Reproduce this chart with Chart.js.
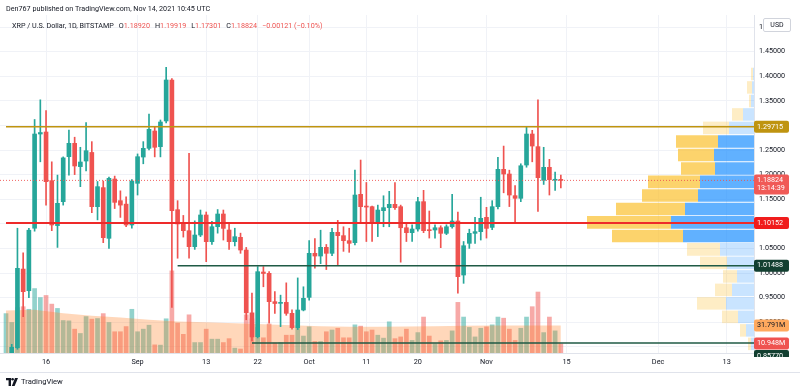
<!DOCTYPE html>
<html>
<head>
<meta charset="utf-8">
<script src="https://cdn.jsdelivr.net/npm/chart.js@4.4.1/dist/chart.umd.min.js"></script>
<style>
  body { margin: 0; background: #fff; font-family: Roboto, "Noto Sans", sans-serif; }
  #wrap { position: relative; width: 800px; height: 392px; overflow: hidden; }
  #chart { position: absolute; left: 0; top: 0; }
  .txt { position: absolute; color: #131722; font-size: 7.2px; white-space: nowrap; }
  .red { color: #ef5350; }
  .gap { margin-left: 5px; }
  #usd { position: absolute; left: 763px; top: 18px; width: 26px; height: 12px; border: 1px solid #d1d4dc;
         border-radius: 2px; background: #fff; font-size: 7px; line-height: 12px; text-align: center; color: #131722; }
  #footer { position: absolute; left: 0; top: 372px; width: 800px; border-top: 1px solid #e0e3eb; }
  #logo { position: absolute; left: 6px; top: 377px; display: flex; align-items: center; gap: 3px;
          font-size: 7.6px; color: #131722; }
</style>
</head>
<body>
<div id="wrap">
  <canvas id="chart" width="800" height="392"></canvas>
  <div class="txt" style="left:6px; top:4px;">Den767 published on TradingView.com, Nov 14, 2021 10:45 UTC</div>
  <div class="txt" style="left:12px; top:21px;">XRP / U.S. Dollar, 1D, BITSTAMP<span class="gap">O</span><span class="red">1.18920</span><span class="gap">H</span><span class="red">1.19919</span><span class="gap">L</span><span class="red">1.17301</span><span class="gap">C</span><span class="red">1.18824</span><span class="gap red">−0.00121 (−0.10%)</span></div>
  <div id="usd">USD</div>
  <div id="footer"></div>
  <div id="logo">
    <svg width="12" height="8" viewBox="0 0 12 8"><path d="M0 0h5v8H2.6V2.3H0z" fill="#131722"/><circle cx="6.6" cy="1.3" r="1.3" fill="#131722"/><path d="M9 0h3L8.6 8H5.8z" fill="#131722"/></svg>
    <span>TradingView</span>
  </div>
</div>
<script>
// daily candles, XRP/USD Bitstamp, first bar = Aug 9 2021 (day 0), last = Nov 14 (day 97)
const opens = [
  0.76, 0.835, 0.848, 1.008, 0.964, 1.091, 1.2825, 1.2866, 1.1877, 1.0963,
  1.145, 1.2365, 1.2636, 1.2162, 1.2276, 1.245, 1.1348, 1.1735, 1.0705, 1.191,
  1.147, 1.140, 1.0976, 1.1823, 1.2357, 1.2534, 1.2886, 1.2568, 1.309, 1.3923,
  1.1287, 1.0997, 1.086, 1.0535, 1.0772, 1.1179, 1.0637, 1.0941, 1.1199, 1.0874,
  1.0637, 1.0725, 1.0467, 0.919, 0.8705, 1.002, 0.9993, 0.9417, 0.9383, 0.9403,
  0.918, 0.8889, 0.9248, 0.9505, 1.040, 1.0345, 1.0522, 1.040, 1.0827, 1.0759,
  1.0657, 1.0616, 1.1599, 1.136, 1.1348, 1.101, 1.1267, 1.1328, 1.1396, 1.1348,
  1.092, 1.082, 1.0894, 1.145, 1.0874, 1.0874, 1.092, 1.0806, 1.094, 1.1057,
  0.9959, 1.0603, 1.0806, 1.084, 1.1131, 1.0927, 1.1348, 1.2107, 1.2012, 1.1572,
  1.1518, 1.2195, 1.2825, 1.2568, 1.1884, 1.2148, 1.1885, 1.18920
];
const highs = [
  0.83, 0.855, 1.091, 1.041, 1.091, 1.312, 1.352, 1.330, 1.226, 1.199,
  1.236, 1.2907, 1.276, 1.2555, 1.3055, 1.267, 1.186, 1.187, 1.195, 1.197,
  1.167, 1.155, 1.19, 1.242, 1.267, 1.323, 1.297, 1.311, 1.418, 1.395,
  1.147, 1.117, 1.243, 1.106, 1.128, 1.124, 1.105, 1.129, 1.128, 1.099,
  1.091, 1.081, 1.052, 0.959, 1.013, 1.013, 1.003, 0.962, 0.955, 0.98,
  0.925, 0.99, 0.972, 1.066, 1.070, 1.087, 1.058, 1.091, 1.107, 1.094,
  1.091, 1.209, 1.2296, 1.184, 1.136, 1.138, 1.157, 1.166, 1.184, 1.138,
  1.100, 1.098, 1.154, 1.168, 1.126, 1.098, 1.096, 1.098, 1.160, 1.124,
  1.064, 1.089, 1.113, 1.154, 1.1335, 1.147, 1.235, 1.258, 1.209, 1.1775,
  1.222, 1.297, 1.29, 1.352, 1.2555, 1.231, 1.205, 1.19919
];
const lows = [
  0.75, 0.82, 0.845, 0.911, 0.950, 1.085, 1.226, 1.138, 1.086, 1.052,
  1.138, 1.199, 1.20, 1.1755, 1.2073, 1.1226, 1.108, 1.0617, 1.050, 1.131,
  1.113, 1.094, 1.091, 1.1585, 1.222, 1.250, 1.236, 1.236, 1.305, 0.93,
  1.03, 1.073, 1.030, 1.048, 1.074, 1.023, 1.058, 1.081, 1.067, 1.048,
  1.055, 1.040, 0.905, 0.862, 0.868, 0.972, 0.898, 0.918, 0.891, 0.914,
  0.886, 0.885, 0.923, 0.945, 1.010, 1.019, 1.007, 1.035, 1.017, 1.044,
  1.042, 1.057, 1.101, 1.064, 1.064, 1.074, 1.094, 1.094, 1.129, 1.022,
  1.064, 1.064, 1.085, 1.082, 1.071, 1.071, 1.0515, 1.078, 1.091, 0.959,
  0.979, 1.050, 1.0603, 1.067, 1.071, 1.088, 1.13, 1.163, 1.135, 1.101,
  1.145, 1.215, 1.226, 1.125, 1.180, 1.1585, 1.168, 1.17301
];
const closes = [
  0.81, 0.849, 1.0095, 0.962, 1.087, 1.2825, 1.2855, 1.1856, 1.0976, 1.1416,
  1.234, 1.2636, 1.2175, 1.2256, 1.2486, 1.1348, 1.1755, 1.0718, 1.1924, 1.1436,
  1.138, 1.0976, 1.187, 1.2364, 1.2534, 1.292, 1.2555, 1.3069, 1.3923, 1.1267,
  1.0997, 1.086, 1.0535, 1.0772, 1.1179, 1.0637, 1.0941, 1.1199, 1.0907, 1.0637,
  1.0738, 1.0467, 0.919, 0.870, 1.0027, 0.999, 0.9417, 0.938, 0.9403, 0.918,
  0.889, 0.9248, 0.9485, 1.040, 1.0345, 1.0522, 1.040, 1.0827, 1.0759, 1.0657,
  1.0603, 1.1585, 1.1348, 1.134, 1.101, 1.128, 1.1328, 1.1396, 1.1328, 1.092,
  1.082, 1.0894, 1.145, 1.086, 1.086, 1.092, 1.0806, 1.094, 1.1057, 0.9925,
  1.0555, 1.0806, 1.084, 1.1111, 1.0907, 1.1348, 1.2107, 1.2012, 1.1585, 1.1518,
  1.218, 1.2825, 1.2581, 1.1938, 1.2148, 1.1898, 1.18945, 1.18824
];
// volume in millions
const volumes = [
  46, 35.7, 53, 54, 51, 75, 64.6, 67, 57, 52,
  38, 37.6, 28, 23, 42.6, 39.6, 40.3, 46, 35.7, 25,
  25, 31, 51, 25, 28, 32.6, 9.8, 9.5, 40, 95.5,
  35, 22, 44.6, 12.5, 12.5, 28, 16.4, 16.4, 12.5, 17,
  6, 5, 44.6, 40, 30, 18, 34, 12, 12.5, 21,
  21, 29, 20, 30.7, 13.7, 13.7, 25, 27, 29, 18,
  18, 33, 31.5, 25, 27, 21, 17.6, 36.5, 17, 19,
  28, 15, 24, 42, 20, 11, 14.5, 15, 26, 59,
  42, 30, 19, 29, 30.7, 33, 42, 40.7, 28, 15,
  29, 42, 54, 71, 24, 42, 26, 10.948
];
// volume moving average, read at a few days
const maDays = [0, 5, 10, 15, 20, 25, 30, 35, 40, 45, 50, 55, 60, 65, 70, 75, 80, 85, 90, 97];
const maValues = [49.2, 50, 46, 43, 41, 38.5, 36.5, 35.5, 34.5, 33.3, 32.2, 31, 30.3, 30.5, 30.8, 31, 31.5, 31.8, 31.8, 31.791];

// visible range volume profile rows (arbitrary volume units)
const profilePrices = [1.4046, 1.3772, 1.3497, 1.3223, 1.2949, 1.2674, 1.2400, 1.2126, 1.1852, 1.1577, 1.1303,
  1.1029, 1.0754, 1.0480, 1.0206, 0.9931, 0.9657, 0.9383, 0.9109, 0.8834, 0.8560];
const profileUp = [1, 2, 3, 11, 25, 36, 40, 39, 54, 56, 69, 83, 71, 34, 27, 17, 22, 28, 16, 8, 3];
const profileDown = [2, 5, 2, 11, 26, 42, 36, 34, 52, 56, 69, 84, 71, 33, 27, 14, 17, 29, 16, 6, 3];
const valueArea = [0, 0, 0, 0, 0, 1, 1, 1, 1, 1, 1, 1, 1, 0, 0, 0, 0, 0, 0, 0, 0];

// horizontal levels drawn on the chart
const levelPrices = [1.29715, 1.10152, 1.01488, 0.85770];
const levelStartDays = [0, 0, 30, 43];
const lastPrice = 1.18824;
const countdown = '13:14:39';

const tickDays = [7, 23, 35, 44, 53, 63, 72, 84, 98, 114, 126];
const tickLabels = ['16', 'Sep', '13', '22', 'Oct', '11', '20', 'Nov', '15', 'Dec', '13'];

// view ranges
const X_MIN = -1.05, X_MAX = 130.77;
const P_MIN = 0.8374, P_MAX = 1.5244;
const V_MAX = 391.4;

const UP = '#26a69a', DOWN = '#ef5350';
const levelColors = ['#bf9410', '#ee2a2a', '#1f5a45', '#1f5a45'];
const levelWidths = [1.5, 2, 1.5, 1.5];

const days = opens.map((_, i) => i);
const isUp = days.map(i => closes[i] >= opens[i]);
const candleColors = isUp.map(u => u ? UP : DOWN);
const volColors = isUp.map(u => u ? 'rgba(38,166,154,0.5)' : 'rgba(239,83,80,0.5)');

const levelDatasets = levelPrices.map((p, i) => ({
    type: 'line',
    data: [{ x: levelStartDays[i], y: p }, { x: X_MAX, y: p }],
    borderColor: levelColors[i],
    borderWidth: levelWidths[i],
    pointRadius: 0,
    order: 0
}));

const labelFont = '7.2px Roboto, sans-serif';

// price / volume tags on the right axis
const axisTags = {
    id: 'axisTags',
    afterDraw(chart) {
        const { ctx, chartArea, scales } = chart;
        const last = volumes.length - 1;
        const tags = [
            { y: scales.yv.getPixelForValue(volumes[last]), lines: [volumes[last].toFixed(3) + 'M'], bg: '#ef5350', fg: '#fff' },
            { y: scales.yv.getPixelForValue(maValues[maValues.length - 1]), lines: [maValues[maValues.length - 1].toFixed(3) + 'M'], bg: '#ffa95e', fg: '#131722' },
            { y: scales.y.getPixelForValue(levelPrices[0]), lines: [levelPrices[0].toFixed(5)], bg: levelColors[0], fg: '#fff' },
            { y: scales.y.getPixelForValue(lastPrice), lines: [lastPrice.toFixed(5), countdown], bg: '#f05a57', fg: '#fff' },
            { y: scales.y.getPixelForValue(levelPrices[1]), lines: [levelPrices[1].toFixed(5)], bg: '#f01c1c', fg: '#fff' },
            { y: scales.y.getPixelForValue(levelPrices[2]), lines: [levelPrices[2].toFixed(5)], bg: '#123f30', fg: '#fff' },
            { y: scales.y.getPixelForValue(levelPrices[3]), lines: [levelPrices[3].toFixed(5)], bg: '#123f30', fg: '#fff' }
        ];
        const placed = [];
        ctx.save();
        ctx.beginPath();
        ctx.rect(chartArea.right, 0, 800 - chartArea.right, chartArea.bottom + 4);
        ctx.clip();
        ctx.font = labelFont;
        ctx.textBaseline = 'middle';
        tags.forEach(t => {
            const h = 12 + (t.lines.length - 1) * 8;
            let top = t.y - 6;
            // push down while overlapping a tag already placed
            let moved = true;
            while (moved) {
                moved = false;
                for (const p of placed) {
                    if (top < p.bottom && top + h > p.top) { top = p.bottom + 0.5; moved = true; }
                }
            }
            placed.push({ top, bottom: top + h });
            ctx.fillStyle = t.bg;
            ctx.beginPath();
            ctx.roundRect(chartArea.right, top, 35, h, 2);
            ctx.fill();
            ctx.fillStyle = t.fg;
            t.lines.forEach((s, k) => ctx.fillText(s, chartArea.right + 3, top + 6 + k * 8));
        });
        ctx.restore();
    }
};

const ctx = document.getElementById('chart');
new Chart(ctx, {
    data: {
        datasets: [
            ...levelDatasets,
            {
                type: 'line',
                data: [{ x: X_MIN, y: lastPrice }, { x: X_MAX, y: lastPrice }],
                borderColor: 'rgba(239,83,80,0.9)',
                borderWidth: 1,
                borderDash: [1, 2],
                pointRadius: 0,
                order: 1
            },
            {
                type: 'bar',
                data: days.map(i => ({ x: i, y: [opens[i], closes[i]] })),
                backgroundColor: candleColors,
                barThickness: 4,
                minBarLength: 1,
                grouped: false,
                order: 2
            },
            {
                type: 'bar',
                data: days.map(i => ({ x: i, y: [lows[i], highs[i]] })),
                backgroundColor: candleColors,
                barThickness: 1,
                grouped: false,
                order: 3
            },
            {
                type: 'bar',
                indexAxis: 'y',
                xAxisID: 'xp',
                yAxisID: 'yp',
                data: profilePrices.map((p, i) => ({ y: p, x: [0, profileUp[i]] })),
                backgroundColor: valueArea.map(a => a ? 'rgba(30,144,255,0.7)' : 'rgba(30,144,255,0.24)'),
                barPercentage: 0.93,
                categoryPercentage: 1,
                grouped: false,
                order: 4
            },
            {
                type: 'bar',
                indexAxis: 'y',
                xAxisID: 'xp',
                yAxisID: 'yp',
                data: profilePrices.map((p, i) => ({ y: p, x: [profileUp[i], profileUp[i] + profileDown[i]] })),
                backgroundColor: valueArea.map(a => a ? 'rgba(251,192,45,0.7)' : 'rgba(251,192,45,0.28)'),
                barPercentage: 0.93,
                categoryPercentage: 1,
                grouped: false,
                order: 4
            },
            {
                type: 'line',
                yAxisID: 'yv',
                data: maDays.map((d, i) => ({ x: d, y: maValues[i] })),
                borderColor: 'rgba(0,0,0,0)',
                borderWidth: 0,
                backgroundColor: 'rgba(255,130,40,0.32)',
                fill: 'origin',
                pointRadius: 0,
                tension: 0,
                order: 5
            },
            {
                type: 'bar',
                yAxisID: 'yv',
                data: days.map(i => ({ x: i, y: volumes[i] })),
                backgroundColor: volColors,
                barPercentage: 0.82,
                categoryPercentage: 1,
                grouped: false,
                order: 6
            }
        ]
    },
    options: {
        responsive: false,
        animation: false,
        devicePixelRatio: 1,
        layout: { padding: { top: 15, bottom: 20, left: 0, right: 0 } },
        plugins: {
            legend: { display: false },
            tooltip: { enabled: false }
        },
        scales: {
            x: {
                type: 'linear',
                offset: false,
                min: X_MIN,
                max: X_MAX,
                afterBuildTicks: scale => { scale.ticks = tickDays.map(v => ({ value: v })); },
                afterFit: scale => { scale.height = 19; },
                grid: { color: '#f0f2f7', drawTicks: false, offset: false },
                border: { color: '#e0e3eb' },
                ticks: {
                    padding: 5,
                    maxRotation: 0,
                    autoSkip: false,
                    color: '#131722',
                    font: { family: 'Roboto, sans-serif', size: 7.3 },
                    callback: v => tickLabels[tickDays.indexOf(v)]
                }
            },
            y: {
                type: 'linear',
                position: 'right',
                min: P_MIN,
                max: P_MAX,
                afterFit: scale => { scale.width = 46; },
                grid: { color: '#f0f2f7', drawTicks: false },
                border: { color: '#e0e3eb' },
                ticks: {
                    stepSize: 0.05,
                    includeBounds: false,
                    padding: 5,
                    color: '#131722',
                    font: { family: 'Roboto, sans-serif', size: 7.2 },
                    callback: v => v.toFixed(5)
                }
            },
            yv: { type: 'linear', display: false, min: 0, max: V_MAX },
            yp: { type: 'linear', display: false, offset: false, min: P_MIN, max: P_MAX },
            xp: { type: 'linear', display: false, offset: false, reverse: true, min: 0, max: 754 }
        }
    },
    plugins: [axisTags]
});
</script>
</body>
</html>
